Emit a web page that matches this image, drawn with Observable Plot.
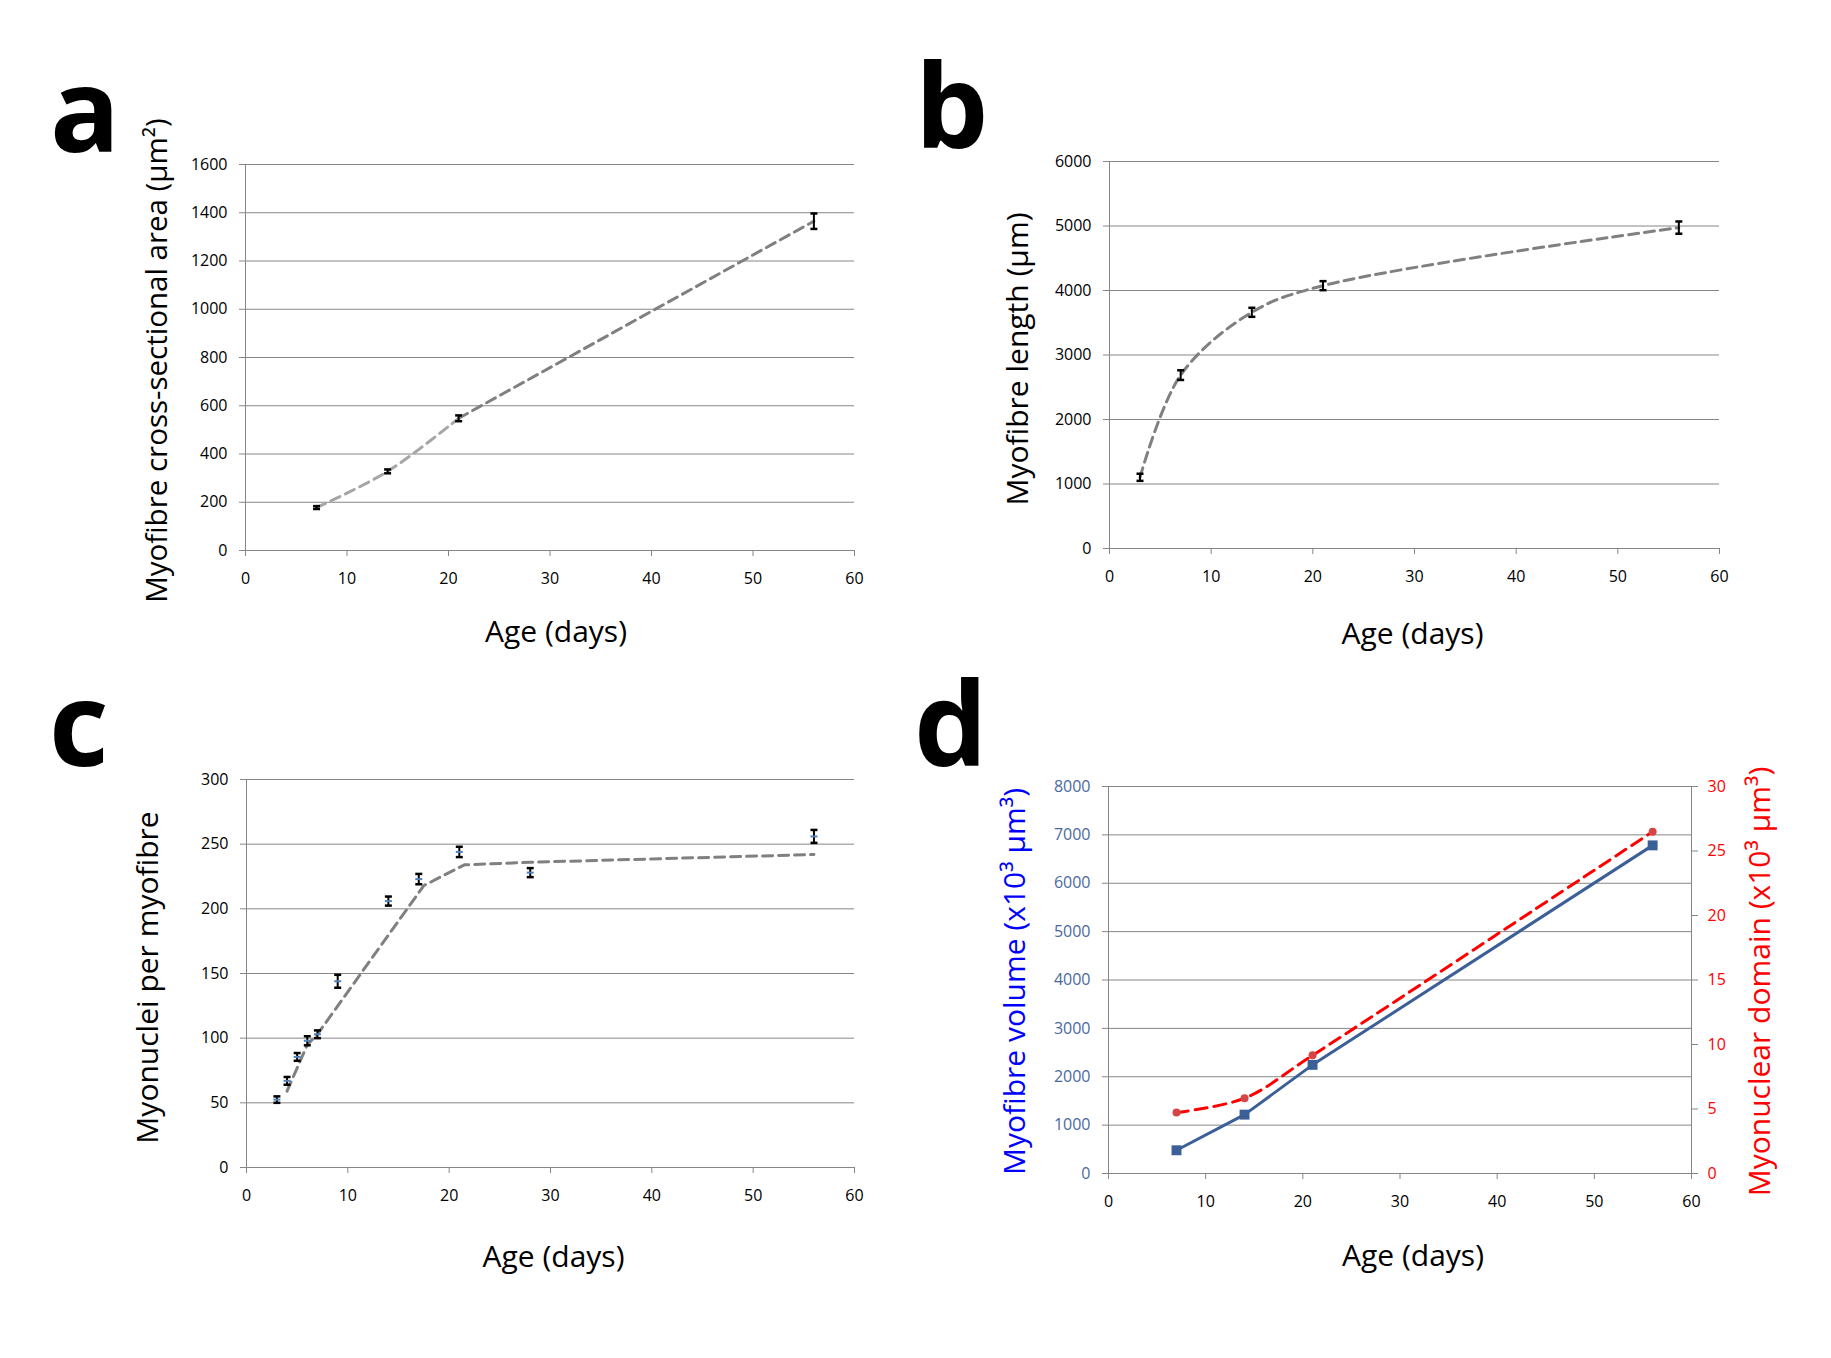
<!DOCTYPE html>
<html><head><meta charset="utf-8">
<script src="https://cdn.jsdelivr.net/npm/d3@7"></script>
<script src="https://cdn.jsdelivr.net/npm/@observablehq/plot@0.6"></script>
<style>
html,body{margin:0;padding:0;background:#fff;}
#page{position:relative;width:1831px;height:1358px;overflow:hidden;background:#fff;}
.panel{position:absolute;}
.letter{position:absolute;font-family:"Open Sans",sans-serif;font-weight:700;font-size:116px;line-height:116px;color:#000;}
</style></head><body><div id="page"></div><script>
// ---- data ----
const xTicks = [0, 10, 20, 30, 40, 50, 60];

// a: cross-sectional area
const ageA = [7, 14, 21, 56];
const csaMean = [178, 328, 548, 1365];
const csaErr = [6, 8, 12, 32];
const csaTicks = [0, 200, 400, 600, 800, 1000, 1200, 1400, 1600];

// b: myofibre length
const ageB = [3, 7, 14, 21, 56];
const lengthMean = [1104, 2688, 3662, 4075, 4975];
const lengthErr = [55, 75, 70, 70, 95];
const lengthTicks = [0, 1000, 2000, 3000, 4000, 5000, 6000];

// c: myonuclei per myofibre
const ageC = [3, 4, 5, 6, 7, 9, 14, 17, 21, 28, 56];
const nucleiMean = [52.5, 67, 85.5, 98, 103, 144, 206, 223, 244, 228, 256];
const nucleiErr = [2.5, 3, 3, 3.5, 3, 5, 3.5, 4, 4, 3.5, 5];
const modelAge = [4, 6, 7, 17.5, 21.5, 28, 56];
const modelNuclei = [59, 95, 103, 218, 234, 236, 242];
const nucleiTicks = [0, 50, 100, 150, 200, 250, 300];

// d: volume and myonuclear domain
const ageD = [7, 14, 21, 56];
const volume = [480, 1217, 2246, 6783];
const domain = [4.73, 5.84, 9.16, 26.5];
const volumeTicks = [0, 1000, 2000, 3000, 4000, 5000, 6000, 7000, 8000];
const domainTicks = [0, 5, 10, 15, 20, 25, 30];

// ---- style ----
const FONT = '"Open Sans", sans-serif';
const GRID = "#868686";
const TREND = "#808080";
const fmt = d => String(d);
const hbar = {draw(ctx, size) { const w = Math.sqrt(size / Math.PI); ctx.moveTo(-w, 0); ctx.lineTo(w, 0); }};

function errorBars(data, meanColor) {
  const m = [
    Plot.ruleX(data, {x: "x", y1: d => d.m - d.e, y2: d => d.m + d.e, stroke: "#000", strokeWidth: 2}),
    Plot.dot(data, {x: "x", y: d => d.m + d.e, symbol: hbar, r: 3.5, stroke: "#000", strokeWidth: 2.5, fill: "none"}),
    Plot.dot(data, {x: "x", y: d => d.m - d.e, symbol: hbar, r: 3.5, stroke: "#000", strokeWidth: 2.5, fill: "none"})
  ];
  if (meanColor) m.push(Plot.dot(data, {x: "x", y: "m", symbol: hbar, r: 3.5, stroke: meanColor, strokeWidth: 2, fill: "none"}));
  return m;
}

function frameMarks(yTicks, yFill = "#000") {
  return [
    Plot.gridY(yTicks, {stroke: GRID, strokeOpacity: 1, strokeWidth: 1}),
    Plot.ruleX([0], {stroke: GRID, strokeWidth: 1}),
    Plot.axisY(yTicks, {tickSize: 6, tickPadding: 12, tickFormat: fmt, fontSize: 16, fontFamily: FONT, stroke: GRID, fill: yFill, label: null}),
    Plot.axisX(xTicks, {tickSize: 6, tickPadding: 16, tickFormat: fmt, fontSize: 16, fontFamily: FONT, stroke: GRID, fill: "#000", label: null})
  ];
}

function xLabel(dy, dx) {
  return Plot.text(["Age (days)"], {text: d => d, frameAnchor: "bottom", textAnchor: "middle", lineAnchor: "bottom", dy, dx, fontSize: 30, fontFamily: FONT, fill: "#000"});
}
function yLabel(label, anchor, dx, dy, color = "#000", size = 30) {
  return Plot.text([label], {text: d => d, frameAnchor: anchor, textAnchor: "middle", rotate: -90, lineAnchor: "top", dx, dy, fontSize: size, fontFamily: FONT, fill: color});
}

const page = document.getElementById("page");
function place(svg, left, top) {
  const div = document.createElement("div");
  div.className = "panel";
  div.style.left = left + "px";
  div.style.top = top + "px";
  div.appendChild(svg);
  page.appendChild(div);
}

// ---- panel a ----
const dataA = ageA.map((x, i) => ({x, m: csaMean[i], e: csaErr[i]}));
place(Plot.plot({
  width: 915, height: 679, marginLeft: 245, marginRight: 61, marginTop: 164, marginBottom: 129,
  style: {fontFamily: FONT, background: "transparent"},
  x: {domain: [0, 60]}, y: {domain: [0, 1600]},
  marks: [
    ...frameMarks(csaTicks),
    Plot.line(dataA.filter(d => d.x <= 21), {x: "x", y: "m", stroke: "#a6a6a6", strokeWidth: 3, strokeDasharray: "10,6", curve: "catmull-rom"}),
    Plot.line(dataA.filter(d => d.x >= 21), {x: "x", y: "m", stroke: TREND, strokeWidth: 3, strokeDasharray: "10,6"}),
    ...errorBars(dataA),
    xLabel(91, 6),
    yLabel("Myofibre cross-sectional area (μm²)", "left", -99, 3, "#000", 29.5)
  ]
}), 0, 0);

// ---- panel b ----
const dataB = ageB.map((x, i) => ({x, m: lengthMean[i], e: lengthErr[i]}));
place(Plot.plot({
  width: 916, height: 679, marginLeft: 194, marginRight: 112, marginTop: 161, marginBottom: 131,
  style: {fontFamily: FONT, background: "transparent"},
  x: {domain: [0, 60]}, y: {domain: [0, 6000]},
  marks: [
    ...frameMarks(lengthTicks),
    Plot.line(dataB, {x: "x", y: "m", stroke: TREND, strokeWidth: 3, strokeDasharray: "10,6", curve: "catmull-rom"}),
    ...errorBars(dataB),
    xLabel(95, -2),
    yLabel("Myofibre length (μm)", "left", -103, 4)
  ]
}), 915, 0);

// ---- panel c ----
const dataC = ageC.map((x, i) => ({x, m: nucleiMean[i], e: nucleiErr[i]}));
const modelC = modelAge.map((x, i) => ({x, y: modelNuclei[i]}));
place(Plot.plot({
  width: 915, height: 679, marginLeft: 246, marginRight: 61, marginTop: 100, marginBottom: 191,
  style: {fontFamily: FONT, background: "transparent"},
  x: {domain: [0, 60]}, y: {domain: [0, 300]},
  marks: [
    ...frameMarks(nucleiTicks),
    Plot.line(modelC, {x: "x", y: "y", stroke: TREND, strokeWidth: 3, strokeDasharray: "10,6"}),
    ...errorBars(dataC, "#4f81bd"),
    xLabel(99, 3),
    yLabel("Myonuclei per myofibre", "left", -110, 4)
  ]
}), 0, 679);

// ---- panel d ----
const k = 8000 / 30;
const dataD = ageD.map((x, i) => ({x, vol: volume[i], dom: domain[i]}));
const BLUE = "#3c5f97";
place(Plot.plot({
  width: 916, height: 679, marginLeft: 193, marginRight: 140, marginTop: 107, marginBottom: 185,
  style: {fontFamily: FONT, background: "transparent"},
  x: {domain: [0, 60]}, y: {domain: [0, 8000]},
  marks: [
    ...frameMarks(volumeTicks, "#4a69a0"),
    Plot.ruleX([60], {stroke: GRID, strokeWidth: 1}),
    Plot.axisY(domainTicks.map(v => v * k), {anchor: "right", tickFormat: v => String(Math.round(v / k)), tickSize: 6, tickPadding: 10, fontSize: 16, fontFamily: FONT, stroke: GRID, fill: "#ff0000", label: null}),
    Plot.line(dataD, {x: "x", y: "vol", stroke: BLUE, strokeWidth: 3}),
    Plot.dot(dataD, {x: "x", y: "vol", symbol: "square", r: 5.6, fill: BLUE}),
    Plot.line(dataD, {x: "x", y: d => d.dom * k, stroke: "#ff0000", strokeWidth: 3, strokeDasharray: "12,7", curve: "catmull-rom"}),
    Plot.dot(dataD, {x: "x", y: d => d.dom * k, r: 4, fill: "#d64545"}),
    xLabel(92, 13),
    yLabel("Myofibre volume (x10³ μm³)", "left", -105, 1.5, "#0000ff"),
    yLabel("Myonuclear domain (x10³ μm³)", "right", 57.5, 1.5, "#ff0000")
  ]
}), 915, 679);

// ---- panel letters ----
[["a", 50, 49], ["b", 915, 45], ["c", 49, 663], ["d", 914, 663]].forEach(([t, l, tp]) => {
  const s = document.createElement("div");
  s.className = "letter";
  s.textContent = t;
  s.style.left = l + "px";
  s.style.top = tp + "px";
  page.appendChild(s);
});
</script></body></html>
